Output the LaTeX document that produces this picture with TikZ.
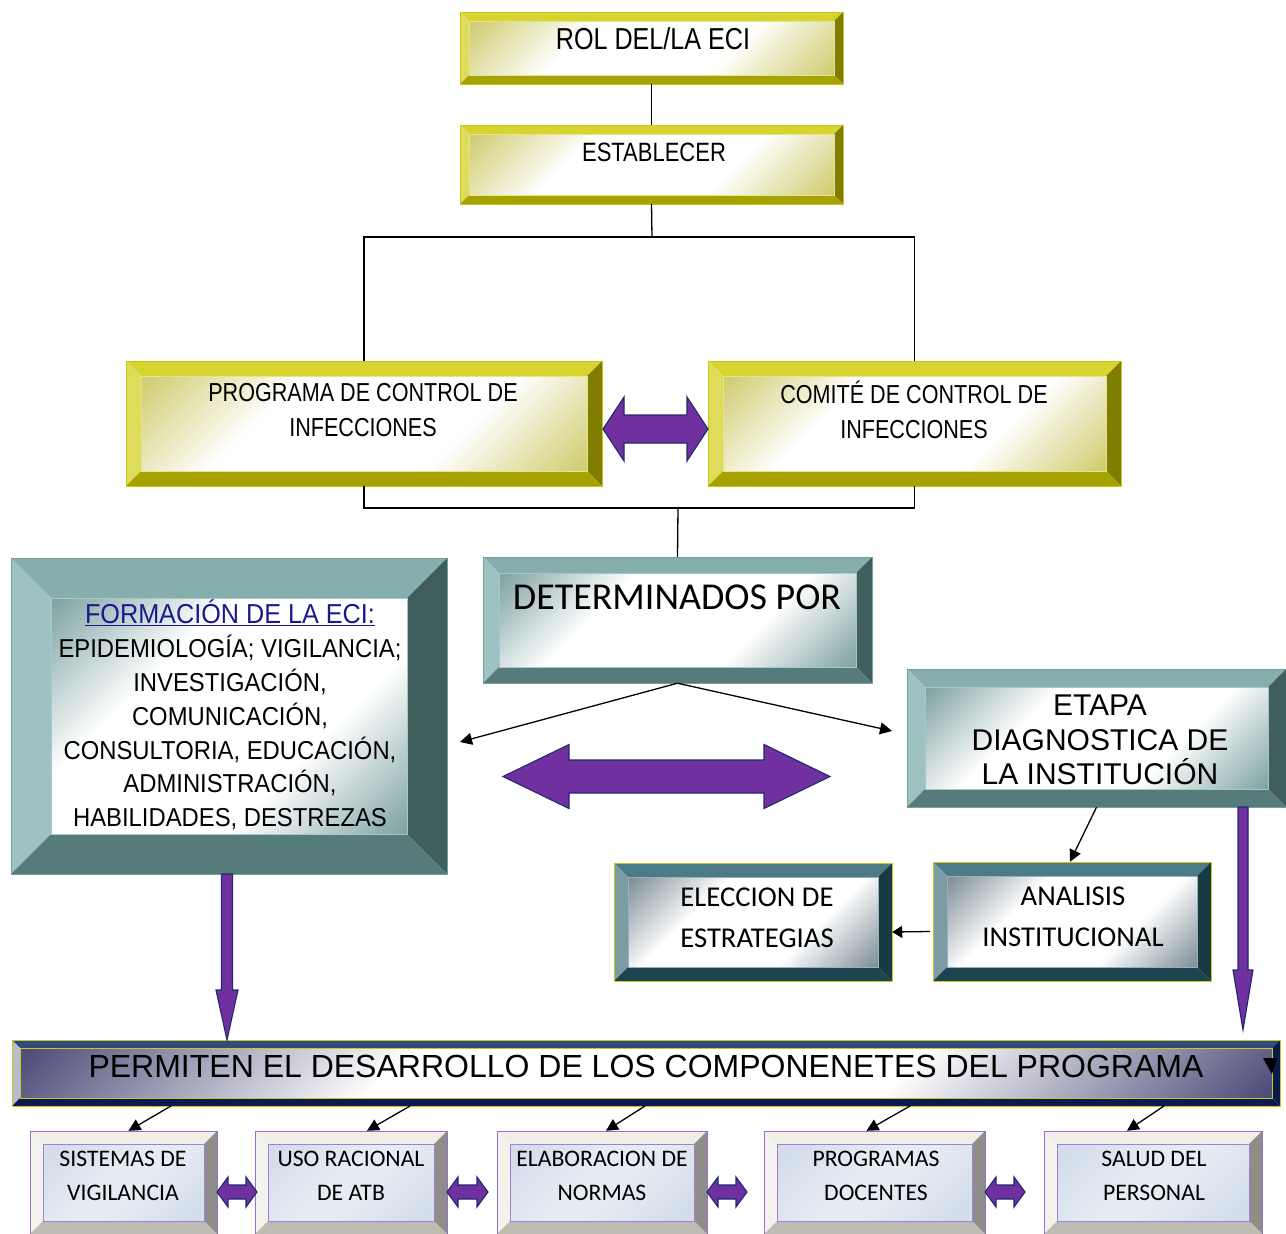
\documentclass[tikz,border=0pt]{standalone}
\usepackage{fontspec}
\setmainfont{Liberation Sans}
\newfontfamily\narrowf[FakeStretch=0.83]{Liberation Sans}
\newfontfamily\formf[FakeStretch=0.92]{Liberation Sans}
\newfontfamily\calib{Carlito}
\newfontfamily\arialf{Liberation Sans}
\usetikzlibrary{fit,arrows.meta}
% colour schemes: T top, L left, R right, B bottom, F face tint, M face middle, O outline, I inner line
\definecolor{yelT}{HTML}{D8D42F}\definecolor{yelL}{HTML}{DFDC5C}\definecolor{yelR}{HTML}{7F7E00}
\definecolor{yelB}{HTML}{A6A300}\definecolor{yelF}{HTML}{D0CC70}\definecolor{yelM}{HTML}{FFFFFF}
\definecolor{yelO}{HTML}{C9C51A}\definecolor{yelI}{HTML}{E6E48E}
\definecolor{tealT}{HTML}{86AEAD}\definecolor{tealL}{HTML}{9EC2C2}\definecolor{tealR}{HTML}{3F5E5C}
\definecolor{tealB}{HTML}{557B7A}\definecolor{tealF}{HTML}{7FA3A3}\definecolor{tealM}{HTML}{FFFFFF}
\definecolor{tealO}{HTML}{76A0A0}\definecolor{tealI}{HTML}{A8C8C8}
\definecolor{dtlT}{HTML}{4A7B86}\definecolor{dtlL}{HTML}{7B9CA4}\definecolor{dtlR}{HTML}{183A43}
\definecolor{dtlB}{HTML}{1B4450}\definecolor{dtlF}{HTML}{7E8E97}\definecolor{dtlM}{HTML}{FFFFFF}
\definecolor{dtlO}{HTML}{C8C81A}\definecolor{dtlI}{HTML}{9AB0B8}
\definecolor{navT}{HTML}{2F4A7C}\definecolor{navL}{HTML}{B8BCD0}\definecolor{navR}{HTML}{0A1A4A}
\definecolor{navB}{HTML}{0B1A4F}\definecolor{navF}{HTML}{4E4E7A}\definecolor{navM}{HTML}{FFFFFF}
\definecolor{navO}{HTML}{C8C81A}\definecolor{navI}{HTML}{C8C81A}
\definecolor{lavT}{HTML}{F0EEE6}\definecolor{lavL}{HTML}{F4F2EC}\definecolor{lavR}{HTML}{8E8D88}
\definecolor{lavB}{HTML}{BEBCB2}\definecolor{lavF}{HTML}{D3DDEB}\definecolor{lavM}{HTML}{E6ECF3}
\definecolor{lavO}{HTML}{9B6CD2}\definecolor{lavI}{HTML}{A57FD6}
\definecolor{purp}{HTML}{7030A0}
\definecolor{purpedge}{HTML}{1F2A6E}
\definecolor{eciblue}{HTML}{1A1A8C}
% face shadings: tint at two opposite corners, broad light band in between
\pgfdeclareverticalshading{yelS}{100bp}{color(0bp)=(yelF); color(15bp)=(yelF); color(36bp)=(yelM); color(64bp)=(yelM); color(85bp)=(yelF); color(100bp)=(yelF)}
\pgfdeclareverticalshading{tealS}{100bp}{color(0bp)=(tealF); color(15bp)=(tealF); color(36bp)=(tealM); color(64bp)=(tealM); color(85bp)=(tealF); color(100bp)=(tealF)}
\pgfdeclareverticalshading{dtlS}{100bp}{color(0bp)=(dtlF); color(15bp)=(dtlF); color(36bp)=(dtlM); color(64bp)=(dtlM); color(85bp)=(dtlF); color(100bp)=(dtlF)}
\pgfdeclareverticalshading{navS}{100bp}{color(0bp)=(navF); color(15bp)=(navF); color(36bp)=(navM); color(64bp)=(navM); color(85bp)=(navF); color(100bp)=(navF)}
\pgfdeclareverticalshading{lavS}{100bp}{color(0bp)=(lavF); color(20bp)=(lavF); color(45bp)=(lavM); color(55bp)=(lavM); color(80bp)=(lavF); color(100bp)=(lavF)}
% bevelled box: name, x1, y1, x2, y2, depth, scheme
\newcommand{\bevbox}[7]{%
  \node[fit={(#2,#3) (#4,#5)}, inner sep=0pt] (#1) {};
  \fill[#7T] (#2,#3) -- (#4,#3) -- ({#4-#6},{#3+#6}) -- ({#2+#6},{#3+#6}) -- cycle;
  \fill[#7L] (#2,#3) -- ({#2+#6},{#3+#6}) -- ({#2+#6},{#5-#6}) -- (#2,#5) -- cycle;
  \fill[#7R] (#4,#3) -- (#4,#5) -- ({#4-#6},{#5-#6}) -- ({#4-#6},{#3+#6}) -- cycle;
  \fill[#7B] (#2,#5) -- ({#2+#6},{#5-#6}) -- ({#4-#6},{#5-#6}) -- (#4,#5) -- cycle;
  \shade[shading=#7S, shading angle=45]
    ({#2+#6},{#3+#6}) rectangle ({#4-#6},{#5-#6});
  \draw[#7I, line width=0.7pt] ({#2+#6},{#3+#6}) rectangle ({#4-#6},{#5-#6});
  \draw[#7O, line width=1pt] (#2,#3) rectangle (#4,#5);
}
% horizontal double arrow: x1, x2, yc, shaft half, head half, head length
\newcommand{\dharrow}[6]{%
  \draw[parrow] (#1,#3) -- ({#1+#6},{#3-#5}) -- ({#1+#6},{#3-#4}) -- ({#2-#6},{#3-#4})
    -- ({#2-#6},{#3-#5}) -- (#2,#3) -- ({#2-#6},{#3+#5}) -- ({#2-#6},{#3+#4})
    -- ({#1+#6},{#3+#4}) -- ({#1+#6},{#3+#5}) -- cycle;}
% vertical down arrow: x, y1, y2, shaft half, head half, head length
\newcommand{\vdnarrow}[6]{%
  \draw[parrow] ({#1-#4},#2) -- ({#1+#4},#2) -- ({#1+#4},{#3-#6}) -- ({#1+#5},{#3-#6})
    -- (#1,#3) -- ({#1-#5},{#3-#6}) -- ({#1-#4},{#3-#6}) -- cycle;}
\begin{document}
\begin{tikzpicture}[x=1pt,y=-1pt,
  conn/.style={line width=1.3pt, black},
  arr/.style={conn, -{Triangle[length=12pt,width=12pt]}},
  parrow/.style={fill=purp, draw=purpedge, line width=1.1pt, line join=miter},
  narrowtxt/.style={font=\narrowf\fontsize{26}{35}\selectfont, align=center},
  caltxt/.style={font=\calib\fontsize{28.7}{41}\selectfont, align=center},
  smalltxt/.style={font=\calib\fontsize{23.7}{34}\selectfont, align=center}]
\fill[white] (0,0) rectangle (1286,1234);
\useasboundingbox (0,0) rectangle (1286,1234);

% boxes
\bevbox{rol}{460}{12}{843}{84}{9}{yel}
\bevbox{est}{460}{125}{843}{204}{9}{yel}
\bevbox{prog}{126}{361}{602}{486}{15}{yel}
\bevbox{com}{708}{361}{1121}{486}{15}{yel}
\bevbox{det}{483}{557}{872}{683}{16}{teal}
\bevbox{form}{11}{558}{447}{874}{40}{teal}
\bevbox{etapa}{907}{669}{1286}{807}{18}{teal}
\bevbox{anal}{933}{862}{1211}{981}{14}{dtl}
\bevbox{elec}{614}{863}{892}{981}{14}{dtl}
\bevbox{perm}{12}{1040}{1280}{1106}{8}{nav}
\bevbox{b1}{30}{1131}{217}{1234}{13}{lav}
\bevbox{b2}{255}{1131}{447}{1234}{13}{lav}
\bevbox{b3}{497}{1131}{707}{1234}{13}{lav}
\bevbox{b4}{764}{1131}{985}{1234}{13}{lav}
\bevbox{b5}{1044}{1131}{1262}{1234}{13}{lav}

% texts
\node[font=\narrowf\fontsize{30.3}{34}\selectfont] (rolT) at (653,39) {ROL DEL/LA ECI};
\node[font=\narrowf\fontsize{26.5}{30}\selectfont] (estT) at (654,152) {ESTABLECER};
\node[narrowtxt] (progT) at (363,410) {PROGRAMA DE CONTROL DE\\INFECCIONES};
\node[narrowtxt] (comT) at (914,410) {COMITÉ DE CONTROL DE\\INFECCIONES};
\node[font=\calib\fontsize{38}{40}\selectfont] (detT) at (677,597) {DETERMINADOS POR};
\node[align=center, font=\formf\fontsize{25.9}{33.8}\selectfont] (formT) at (230,715)
  {\textcolor{eciblue}{\fontsize{27.4}{33.8}\selectfont\underline{FORMACIÓN DE LA ECI:}}\\EPIDEMIOLOGÍA; VIGILANCIA;\\INVESTIGACIÓN,\\COMUNICACIÓN,\\CONSULTORIA, EDUCACIÓN,\\ADMINISTRACIÓN,\\HABILIDADES, DESTREZAS};
\node[font=\arialf\fontsize{30}{34.5}\selectfont, align=center] (etapaT) at (1100,740) {ETAPA\\DIAGNOSTICA DE\\LA INSTITUCIÓN};
\node[caltxt] (elecT) at (757,918) {ELECCION DE\\ESTRATEGIAS};
\node[caltxt] (analT) at (1073,917) {ANALISIS\\INSTITUCIONAL};
\node[font=\arialf\fontsize{32}{34}\selectfont] (permT) at (646,1066) {PERMITEN EL DESARROLLO DE LOS COMPONENETES DEL PROGRAMA};
\node[smalltxt] (b1T) at (123,1176) {SISTEMAS DE\\VIGILANCIA};
\node[smalltxt] (b2T) at (351,1176) {USO RACIONAL\\DE ATB};
\node[smalltxt] (b3T) at (602,1176) {ELABORACION DE\\NORMAS};
\node[smalltxt] (b4T) at (876,1176) {PROGRAMAS\\DOCENTES};
\node[smalltxt] (b5T) at (1154,1176) {SALUD DEL\\PERSONAL};

% tree connectors
\coordinate (j1) at (652,237);
\coordinate (j2) at (678,508);
\draw[conn] (rol.south) -- (est.north);
\draw[conn] (est.south) -- (j1);
\draw[conn] (prog.north) |- (j1) -| (com.north);
\draw[conn] (prog.south) |- (j2) -| (com.south);
\draw[conn] (j2) -- (det.north);

% arrows from DETERMINADOS
\coordinate (detL) at (460,742);
\coordinate (detR) at (892,731);
\draw[arr] (det.south) -- (detL);
\draw[arr] (det.south) -- (detR);
\draw[arr] (etapa.south) -- ([xshift=-2pt]anal.north);
\draw[arr, -{Triangle[length=10pt,width=12pt]}] ([xshift=-3pt,yshift=-10pt]anal.west) -- ([yshift=-10pt]elec.east);

% purple arrows
\dharrow{603}{708}{429}{14}{32}{21}
\dharrow{503}{830}{776.5}{16.5}{32}{66}
\vdnarrow{227}{874}{1040}{5.5}{11}{50}
\vdnarrow{1243}{807}{1030}{5}{10}{60}
\dharrow{217}{257}{1192}{7}{15}{11}
\dharrow{447}{488}{1192}{7}{15}{11}
\dharrow{707}{747}{1192}{7}{15}{11}
\dharrow{985}{1025}{1192}{7}{15}{11}

% stray arrow tip at the right of PERMITEN
\fill[black] (1263,1058) -- (1277,1058) -- (1272,1074) -- cycle;

% arrows to the components
\coordinate (p1) at (171,1106);
\coordinate (p2) at (410,1106);
\coordinate (p3) at (645,1106);
\coordinate (p4) at (910,1106);
\coordinate (p5) at (1164,1106);
\draw[arr] (p1) -- ([xshift=5pt]b1.north);
\draw[arr] (p2) -- ([xshift=16pt]b2.north);
\draw[arr] (p3) -- ([xshift=4pt]b3.north);
\draw[arr] (p4) -- ([xshift=-8pt]b4.north);
\draw[arr] (p5) -- ([xshift=-26pt]b5.north);
\end{tikzpicture}
\end{document}
